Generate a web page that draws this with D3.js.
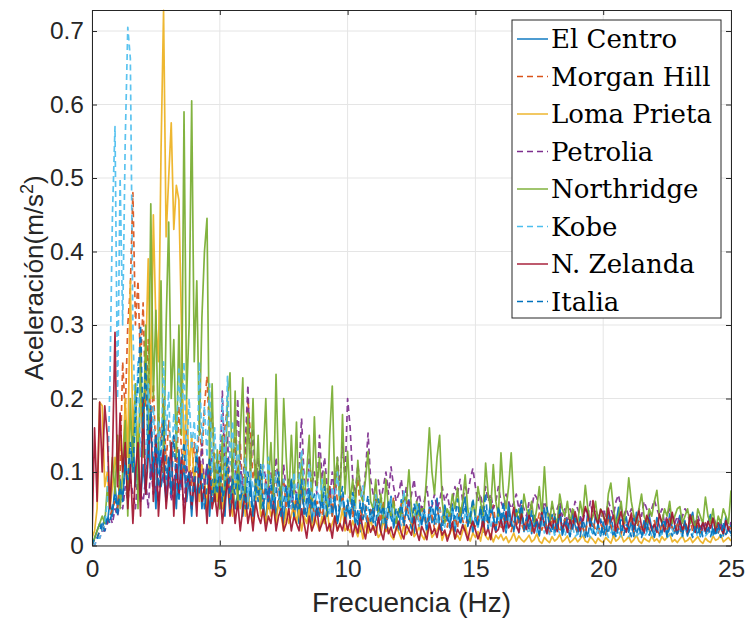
<!DOCTYPE html>
<html><head><meta charset="utf-8">
<script src="https://cdn.jsdelivr.net/npm/d3@7"></script>
<style>body{margin:0;background:#fff}svg{display:block}</style>
</head><body>
<svg id="c" width="746" height="621"></svg>
<script>
// frequency step of all spectra (Hz); values sampled every 0.1 Hz from 0 to 25 Hz
const freqStep = 0.1;
const xTicks = [0, 5, 10, 15, 20, 25];
const yTicks = [0, 0.1, 0.2, 0.3, 0.4, 0.5, 0.6, 0.7];
const seriesNames = ["El Centro","Morgan Hill","Loma Prieta","Petrolia","Northridge","Kobe","N. Zelanda","Italia"];

const elCentro = [
.00,.01,.02,.03,.02,.04,.03,.06,.04,.08,
.05,.09,.06,.12,.07,.10,.15,.08,.13,.06,
.11,.07,.16,.09,.12,.05,.14,.08,.10,.06,
.12,.07,.09,.05,.13,.08,.11,.06,.09,.04,
.10,.06,.12,.05,.08,.11,.04,.09,.06,.10,
.05,.08,.04,.11,.06,.09,.05,.07,.10,.04,
.08,.05,.09,.04,.07,.10,.05,.06,.03,.08,
.05,.09,.04,.06,.08,.03,.07,.05,.09,.04,
.06,.03,.08,.05,.04,.07,.03,.06,.05,.04,
.07,.03,.05,.08,.04,.06,.03,.05,.07,.03,
.052,.037,.061,.028,.047,.019,.058,.041,.026,.049,
.031,.063,.042,.018,.053,.029,.044,.067,.024,.039,
.021,.054,.033,.046,.062,.027,.016,.043,.057,.029,
.045,.018,.052,.031,.039,.064,.022,.034,.055,.041,
.028,.056,.019,.043,.032,.051,.066,.027,.044,.017,
.041,.026,.053,.018,.047,.031,.062,.039,.021,.052,
.033,.045,.017,.058,.029,.022,.047,.031,.054,.019,
.028,.049,.016,.041,.027,.013,.038,.051,.019,.031,
.042,.017,.029,.053,.014,.037,.026,.012,.044,.028,
.015,.039,.027,.011,.048,.024,.016,.041,.029,.013,
.032,.014,.043,.025,.012,.031,.052,.017,.028,.039,
.018,.033,.012,.045,.026,.015,.034,.019,.041,.023,
.013,.038,.027,.016,.031,.012,.043,.024,.017,.029,
.041,.016,.028,.013,.034,.045,.018,.027,.012,.033,
.019,.031,.042,.014,.026,.017,.035,.013,.039,.021,
.028];

const morganHill = [
.00,.01,.01,.02,.02,.03,.03,.04,.05,.06,
.05,.10,.25,.18,.30,.35,.48,.30,.36,.24,
.33,.19,.28,.15,.22,.12,.18,.14,.20,.11,
.17,.12,.15,.09,.19,.13,.10,.16,.12,.08,
.14,.10,.17,.12,.19,.23,.15,.18,.11,.09,
.13,.08,.16,.19,.12,.10,.15,.09,.14,.07,
.12,.20,.15,.09,.11,.07,.10,.06,.09,.05,
.08,.06,.10,.05,.07,.09,.05,.08,.06,.04,
.07,.05,.08,.04,.06,.05,.07,.04,.06,.05,
.04,.06,.05,.08,.04,.10,.06,.05,.07,.04,
.052,.071,.038,.063,.091,.047,.035,.058,.029,.049,
.041,.068,.053,.032,.061,.027,.048,.039,.066,.031,
.044,.057,.026,.062,.037,.029,.051,.043,.024,.055,
.038,.027,.049,.041,.022,.036,.054,.031,.045,.025,
.047,.029,.038,.024,.052,.035,.021,.043,.033,.028,
.026,.039,.048,.023,.036,.031,.042,.055,.027,.034,
.022,.037,.028,.046,.019,.033,.025,.041,.029,.021,
.035,.024,.018,.038,.027,.044,.021,.032,.026,.017,
.039,.023,.031,.018,.027,.036,.022,.016,.034,.025,
.019,.032,.024,.015,.037,.026,.033,.021,.017,.029,
.023,.016,.035,.027,.018,.031,.024,.014,.038,.022,
.026,.041,.019,.023,.033,.017,.028,.036,.021,.016,
.034,.022,.015,.031,.025,.019,.037,.024,.018,.029,
.021,.016,.032,.023,.035,.019,.027,.033,.017,.024,
.031,.019,.025,.036,.021,.017,.029,.023,.015,.027,
.022];

const lomaPrieta = [
.01,.02,.05,.195,.19,.08,.10,.05,.08,.12,
.10,.15,.10,.20,.12,.36,.15,.22,.12,.20,
.15,.25,.39,.20,.45,.30,.25,.535,.728,.42,
.50,.575,.43,.49,.47,.30,.12,.20,.10,.15,
.08,.13,.06,.11,.09,.05,.12,.07,.10,.06,
.09,.05,.08,.11,.06,.04,.09,.07,.05,.08,
.04,.07,.05,.03,.06,.08,.04,.05,.03,.06,
.04,.05,.03,.06,.04,.02,.05,.03,.04,.06,
.03,.05,.02,.04,.03,.05,.02,.04,.03,.02,
.04,.03,.05,.02,.03,.04,.02,.03,.05,.02,
.025,.018,.034,.022,.012,.028,.009,.031,.017,.036,
.021,.027,.011,.016,.035,.019,.024,.013,.008,.026,
.018,.009,.029,.015,.022,.031,.012,.017,.026,.014,
.008,.019,.027,.011,.016,.021,.029,.007,.018,.012,
.016,.025,.009,.014,.007,.019,.028,.013,.006,.017,
.011,.019,.006,.024,.013,.008,.016,.005,.014,.009,
.015,.007,.012,.004,.009,.017,.006,.013,.008,.005,
.009,.014,.005,.008,.016,.006,.003,.011,.007,.004,
.012,.006,.009,.015,.005,.008,.013,.004,.007,.011,
.005,.009,.014,.006,.004,.012,.008,.003,.010,.006,
.004,.011,.007,.003,.013,.006,.009,.015,.005,.008,
.012,.004,.008,.014,.006,.003,.010,.007,.005,.013,
.006,.009,.004,.012,.007,.011,.016,.005,.008,.004,
.009,.013,.005,.007,.011,.004,.008,.012,.006,.003,
.010,.006,.004,.013,.007,.009,.015,.005,.008,.011,
.006];

const petrolia = [
.00,.00,.01,.01,.02,.02,.03,.04,.03,.05,
.04,.06,.05,.08,.06,.09,.07,.05,.10,.07,
.06,.09,.05,.11,.07,.08,.06,.12,.09,.07,
.10,.06,.08,.12,.07,.09,.05,.11,.08,.10,
.07,.12,.09,.14,.08,.11,.07,.13,.09,.12,
.08,.21,.10,.15,.07,.12,.09,.20,.11,.08,
.14,.218,.10,.16,.08,.12,.07,.11,.09,.06,
.10,.07,.12,.08,.06,.11,.07,.09,.05,.08,
.07,.10,.173,.09,.06,.12,.08,.10,.07,.15,
.09,.12,.08,.06,.10,.07,.12,.08,.14,.09,
.20,.16,.09,.07,.11,.08,.06,.10,.153,.09,
.07,.08,.089,.06,.08,.10,.07,.107,.08,.06,
.07,.09,.06,.08,.05,.07,.09,.06,.07,.05,
.06,.08,.05,.053,.07,.05,.06,.08,.06,.07,
.05,.06,.08,.07,.09,.06,.08,.07,.09,.105,
.08,.06,.07,.05,.08,.06,.07,.05,.06,.08,
.06,.05,.07,.06,.05,.058,.07,.05,.06,.05,
.04,.06,.05,.07,.065,.05,.04,.06,.05,.04,
.053,.04,.05,.06,.04,.05,.03,.05,.04,.06,
.05,.04,.03,.05,.04,.06,.04,.05,.04,.03,
.05,.04,.06,.05,.04,.06,.069,.05,.04,.05,
.04,.05,.04,.03,.05,.04,.06,.05,.04,.05,
.062,.05,.04,.05,.03,.04,.05,.04,.03,.04,
.03,.04,.05,.044,.03,.04,.03,.04,.03,.02,
.03,.02,.03,.04,.03,.02,.03,.02,.03,.02,
.032];

const northridge = [
.00,.01,.02,.03,.04,.03,.08,.05,.12,.07,
.15,.05,.10,.17,.04,.20,.10,.22,.05,.27,
.12,.30,.15,.465,.20,.32,.13,.36,.10,.30,
.44,.20,.28,.12,.30,.15,.59,.20,.30,.605,
.25,.36,.15,.31,.40,.445,.10,.22,.06,.13,
.05,.15,.06,.20,.235,.07,.21,.05,.15,.228,
.06,.18,.09,.20,.07,.15,.05,.12,.20,.08,
.14,.06,.233,.10,.05,.20,.12,.06,.15,.07,
.168,.05,.12,.06,.10,.15,.05,.175,.08,.12,
.06,.10,.04,.15,.217,.08,.12,.05,.178,.07,
.128,.06,.09,.05,.116,.07,.06,.09,.128,.06,
.05,.09,.04,.07,.03,.09,.05,.04,.06,.03,
.05,.04,.07,.06,.103,.05,.03,.06,.04,.05,
.05,.10,.16,.10,.07,.12,.15,.06,.03,.05,
.04,.07,.05,.078,.04,.06,.096,.05,.03,.06,
.04,.08,.06,.04,.112,.07,.05,.11,.06,.04,
.126,.07,.05,.08,.126,.06,.04,.05,.03,.07,
.05,.04,.06,.03,.05,.08,.04,.107,.05,.03,
.06,.04,.03,.07,.05,.04,.06,.03,.05,.04,
.03,.06,.04,.082,.05,.03,.04,.06,.03,.05,
.04,.03,.07,.085,.05,.03,.04,.06,.03,.05,
.092,.06,.04,.03,.05,.07,.04,.03,.05,.04,
.06,.075,.04,.03,.05,.04,.06,.03,.04,.05,
.053,.03,.04,.05,.03,.04,.02,.05,.04,.03,
.066,.04,.03,.05,.02,.04,.03,.05,.04,.03,
.075];

const kobe = [
.00,.00,.01,.01,.02,.03,.06,.22,.45,.57,
.20,.50,.30,.55,.705,.663,.30,.15,.25,.12,
.18,.10,.22,.14,.19,.09,.17,.12,.25,.15,
.21,.10,.18,.14,.24,.16,.25,.11,.20,.13,
.17,.10,.25,.14,.19,.12,.22,.10,.16,.08,
.13,.20,.09,.23,.11,.17,.08,.14,.10,.07,
.12,.06,.10,.08,.05,.09,.07,.11,.06,.12,
.08,.05,.10,.07,.04,.09,.06,.08,.05,.10,
.06,.09,.13,.08,.05,.11,.07,.04,.08,.06,
.09,.05,.07,.04,.08,.06,.10,.05,.07,.04,
.063,.042,.071,.054,.028,.062,.081,.039,.052,.034,
.048,.069,.041,.057,.031,.052,.037,.064,.029,.046,
.038,.027,.075,.043,.052,.031,.039,.058,.026,.041,
.047,.029,.036,.053,.041,.028,.049,.037,.025,.044,
.035,.052,.027,.043,.038,.024,.046,.033,.051,.028,
.036,.025,.042,.029,.034,.047,.023,.038,.027,.041,
.026,.035,.019,.037,.028,.043,.024,.017,.033,.025,
.023,.016,.034,.026,.018,.029,.036,.017,.024,.015,
.027,.014,.022,.017,.031,.013,.024,.018,.026,.012,
.016,.025,.013,.021,.017,.011,.023,.015,.024,.012,
.014,.022,.011,.017,.024,.013,.019,.012,.016,.021,
.012,.018,.025,.013,.016,.022,.011,.017,.023,.013,
.015,.021,.012,.016,.024,.011,.014,.022,.013,.017,
.022,.012,.016,.021,.013,.015,.023,.011,.014,.019,
.013,.017,.022,.012,.016,.021,.012,.015,.022,.013,
.014];

const nZelanda = [
.01,.16,.06,.195,.10,.19,.15,.05,.12,.29,
.08,.18,.10,.14,.05,.11,.03,.10,.14,.04,
.20,.07,.12,.178,.06,.15,.04,.10,.13,.05,
.09,.14,.04,.11,.07,.12,.03,.08,.10,.05,
.09,.04,.12,.06,.08,.03,.10,.05,.07,.04,
.08,.03,.06,.09,.04,.07,.03,.06,.02,.05,
.07,.03,.05,.02,.06,.04,.03,.05,.02,.04,
.03,.06,.02,.04,.05,.02,.03,.05,.02,.04,
.03,.02,.05,.03,.01,.04,.02,.03,.05,.02,
.03,.04,.02,.03,.01,.04,.02,.03,.02,.04,
.021,.034,.012,.029,.017,.041,.023,.009,.031,.018,
.027,.014,.038,.019,.008,.032,.016,.025,.011,.022,
.033,.017,.009,.028,.021,.014,.039,.019,.007,.026,
.018,.008,.031,.016,.023,.011,.029,.014,.021,.006,
.017,.032,.009,.022,.015,.028,.019,.007,.024,.033,
.021,.009,.019,.034,.014,.024,.008,.031,.018,.022,
.035,.019,.046,.024,.031,.052,.027,.018,.043,.029,
.022,.041,.031,.017,.036,.023,.045,.028,.016,.033,
.024,.037,.019,.044,.021,.032,.018,.035,.023,.046,
.031,.019,.034,.053,.042,.027,.061,.038,.029,.049,
.043,.028,.051,.032,.041,.019,.034,.046,.027,.018,
.031,.044,.022,.035,.047,.026,.017,.041,.033,.021,
.029,.018,.043,.031,.019,.036,.024,.045,.028,.016,
.034,.021,.032,.017,.042,.029,.018,.035,.022,.031,
.019,.033,.024,.037,.018,.031,.023,.016,.034,.021,
.018];

const italia = [
.00,.01,.01,.02,.03,.02,.04,.03,.05,.07,
.04,.08,.06,.11,.09,.14,.10,.18,.22,.30,
.16,.25,.12,.19,.10,.15,.08,.13,.17,.09,
.12,.07,.15,.09,.06,.11,.14,.08,.10,.05,
.09,.13,.07,.10,.05,.08,.12,.06,.09,.07,
.11,.06,.08,.12,.05,.09,.07,.10,.06,.08,
.05,.10,.07,.04,.09,.06,.11,.05,.08,.06,
.09,.05,.07,.10,.04,.06,.08,.05,.09,.04,
.07,.05,.09,.04,.06,.08,.05,.07,.04,.06,
.05,.08,.04,.06,.05,.07,.03,.06,.08,.04,
.061,.038,.072,.047,.029,.058,.036,.049,.068,.033,
.052,.027,.063,.041,.054,.024,.059,.037,.028,.051,
.039,.062,.026,.048,.036,.023,.057,.042,.051,.027,
.049,.022,.038,.061,.029,.052,.034,.021,.047,.036,
.024,.051,.037,.063,.028,.041,.055,.026,.039,.064,
.037,.025,.052,.034,.071,.023,.048,.039,.021,.053,
.036,.059,.024,.047,.032,.019,.049,.035,.061,.022,
.038,.021,.047,.026,.035,.016,.041,.027,.052,.024,
.017,.039,.023,.048,.014,.028,.036,.013,.025,.037,
.022,.012,.035,.024,.011,.038,.021,.014,.029,.036,
.013,.027,.016,.039,.022,.011,.026,.035,.014,.028,
.024,.012,.037,.015,.027,.011,.023,.033,.014,.026,
.011,.025,.014,.029,.036,.012,.024,.013,.027,.016,
.026,.013,.034,.015,.022,.011,.028,.014,.025,.012,
.014,.027,.012,.024,.013,.029,.011,.032,.015,.023,
.016];

const seriesValues = [elCentro, morganHill, lomaPrieta, petrolia, northridge, kobe, nZelanda, italia];
const seriesColors = ["#0072BD","#D95319","#EDB120","#7E2F8E","#77AC30","#4DBEEE","#A2142F","#0072BD"];
const seriesDashed = [false, true, false, true, false, true, false, true];

const svg = d3.select("#c");
const L = 92, R = 731, T = 10, B = 545.5;
const x = d3.scaleLinear().domain([0, 25]).range([L, R]);
const y = d3.scaleLinear().domain([0, 0.7286]).range([B, T]);
const tickFont = "'Liberation Sans', Arial, Helvetica, sans-serif";

// grid
const g = svg.append("g");
g.selectAll(".gx").data(xTicks).join("line")
  .attr("x1", d => x(d)).attr("x2", d => x(d)).attr("y1", T).attr("y2", B)
  .attr("stroke", "#e5e5e5").attr("stroke-width", 1);
g.selectAll(".gy").data(yTicks).join("line")
  .attr("x1", L).attr("x2", R).attr("y1", d => y(d)).attr("y2", d => y(d))
  .attr("stroke", "#e5e5e5").attr("stroke-width", 1);

// lines
svg.append("clipPath").attr("id", "clip").append("rect")
  .attr("x", L).attr("y", T - 1).attr("width", R - L).attr("height", B - T + 1);
const line = d3.line().x((d, i) => x(i * freqStep)).y(d => y(d));
const lg = svg.append("g").attr("clip-path", "url(#clip)");
seriesValues.forEach((vals, k) => {
  lg.append("path").datum(vals).attr("d", line)
    .attr("fill", "none").attr("stroke", seriesColors[k])
    .attr("stroke-width", 1.7).attr("stroke-linejoin", "round")
    .attr("stroke-dasharray", seriesDashed[k] ? "6,4" : null)
    .attr("opacity", 0.92);
});

// axes box and ticks
const axisColor = "#262626";
const xa = svg.append("g").attr("transform", `translate(0,${B})`)
  .call(d3.axisBottom(x).tickValues(xTicks).tickSizeInner(-5).tickSizeOuter(0).tickPadding(14).tickFormat(d3.format("d")));
const ya = svg.append("g").attr("transform", `translate(${L},0)`)
  .call(d3.axisLeft(y).tickValues(yTicks).tickSizeInner(-5).tickSizeOuter(0).tickPadding(8).tickFormat(d => d === 0 ? "0" : d3.format(".1f")(d)));
const xt = svg.append("g").attr("transform", `translate(0,${T})`)
  .call(d3.axisTop(x).tickValues(xTicks).tickSizeInner(-5).tickSizeOuter(0).tickFormat(""));
const yr = svg.append("g").attr("transform", `translate(${R},0)`)
  .call(d3.axisRight(y).tickValues(yTicks).tickSizeInner(-5).tickSizeOuter(0).tickFormat(""));
[xa, ya, xt, yr].forEach(a => {
  a.select(".domain").attr("stroke", axisColor).attr("stroke-width", 1);
  a.selectAll(".tick line").attr("stroke", axisColor);
  a.selectAll("text").attr("fill", "#262626").style("font-family", tickFont).style("font-size", "24.5px");
});

// axis titles
svg.append("text").attr("x", (L + R) / 2).attr("y", 612).attr("text-anchor", "middle")
  .style("font-family", tickFont).style("font-size", "28px").attr("fill", "#262626")
  .text("Frecuencia (Hz)");
const yl = svg.append("text").attr("transform", `translate(43,${(T + B) / 2}) rotate(-90)`)
  .attr("text-anchor", "middle").style("font-family", tickFont).style("font-size", "26px").attr("fill", "#262626");
yl.append("tspan").text("Aceleración(m/s");
yl.append("tspan").attr("dy", -10).style("font-size", "18px").text("2");
yl.append("tspan").attr("dy", 10).text(")");

// legend
const lgX = 512, lgY = 20, lgW = 209, lgH = 298;
const leg = svg.append("g");
leg.append("rect").attr("x", lgX).attr("y", lgY).attr("width", lgW).attr("height", lgH)
  .attr("fill", "#fff").attr("stroke", "#262626").attr("stroke-width", 1);
seriesNames.forEach((name, k) => {
  const cy = 39 + k * 37.5;
  leg.append("line").attr("x1", 517).attr("x2", 548).attr("y1", cy).attr("y2", cy)
    .attr("stroke", seriesColors[k]).attr("stroke-width", 1.4)
    .attr("stroke-dasharray", seriesDashed[k] ? "6,4" : null);
  leg.append("text").attr("x", 551).attr("y", cy + 9)
    .style("font-family", "'DejaVu Serif', serif").style("font-size", "26px").attr("fill", "#000")
    .text(name);
});
</script>
</body></html>
